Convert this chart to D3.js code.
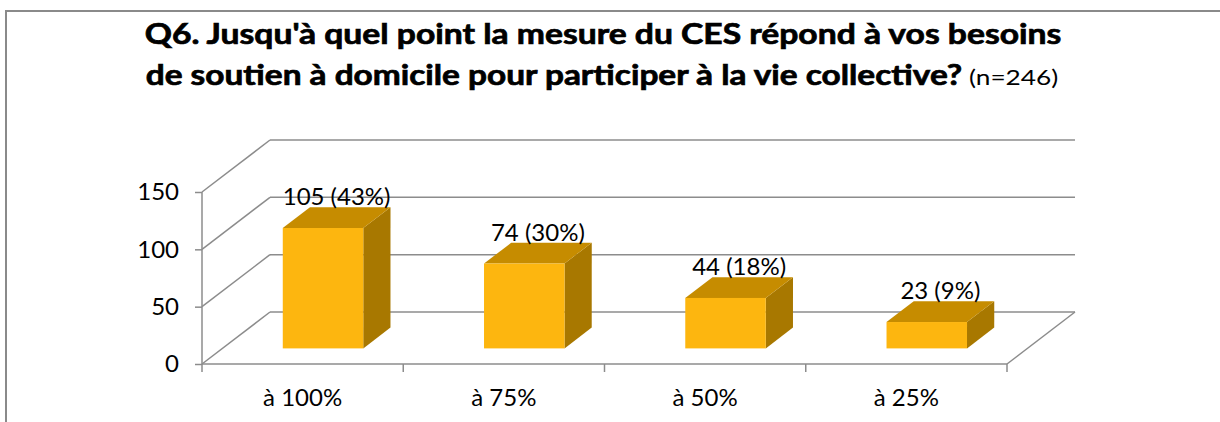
<!DOCTYPE html>
<html>
<head>
<meta charset="utf-8">
<script src="https://cdn.jsdelivr.net/npm/d3@7"></script>
<style>
  body { margin: 0; background: #fff; }
  svg { display: block; font-family: "Gill Sans", "Gill Sans MT", Lato, sans-serif; }
</style>
</head>
<body>
<div id="chart"></div>
<script>
// data
var categories = ["à 100%", "à 75%", "à 50%", "à 25%"];
var counts = [105, 74, 44, 23];
var percents = [43, 30, 18, 9];
var yTicks = [0, 50, 100, 150];

var titleLine1 = "Q6. Jusqu'à quel point la mesure du CES répond à vos besoins";
var titleLine2 = "de soutien à domicile pour participer à la vie collective?";
var titleNote = " (n=246)";

function drawChart() {
    var W = 1220, H = 422;
    var svg = d3.select("#chart").append("svg").attr("width", W).attr("height", H);

    // outer frame (only left and top edges visible)
    svg.append("path")
        .attr("d", "M6,422 L6,11 L1220,11")
        .attr("fill", "none")
        .attr("stroke", "#8a8a8a")
        .attr("stroke-width", 2);

    // 3d geometry
    var depthX = 68, depthY = -52;
    var x0 = 202, x1 = 1007;
    var x = d3.scaleBand().domain(categories).range([x0, x1]).padding(0);
    var y = d3.scaleLinear().domain([0, 150]).range([364, 192]);
    var barFrac = 0.4, dNear = 0.3, dFar = 0.7;
    var gridColor = "#8c8c8c";

    var grid = svg.append("g").attr("stroke", gridColor).attr("stroke-width", 1.5).attr("fill", "none");
    // back wall lines + left wall diagonals
    yTicks.forEach(function (t) {
        grid.append("line")
            .attr("x1", x0 + depthX).attr("y1", y(t) + depthY)
            .attr("x2", x1 + depthX).attr("y2", y(t) + depthY);
        grid.append("line")
            .attr("x1", x0).attr("y1", y(t))
            .attr("x2", x0 + depthX).attr("y2", y(t) + depthY);
    });
    // floor right edge
    grid.append("line")
        .attr("x1", x1).attr("y1", y(0))
        .attr("x2", x1 + depthX).attr("y2", y(0) + depthY);

    // bars
    var bars = svg.append("g").selectAll("g")
        .data(counts)
        .enter().append("g");

    bars.each(function (v, i) {
        var g = d3.select(this);
        var bw = x.bandwidth() * barFrac;
        var cx = x(categories[i]) + x.bandwidth() / 2;
        var fx = cx - bw / 2 + depthX * dNear;
        var fy0 = y(0) + depthY * dNear;
        var fy1 = y(v) + depthY * dNear;
        var ddx = depthX * (dFar - dNear), ddy = depthY * (dFar - dNear);
        // side
        g.append("path")
            .attr("d", "M" + (fx + bw) + "," + fy1 + " L" + (fx + bw + ddx) + "," + (fy1 + ddy) +
                " L" + (fx + bw + ddx) + "," + (fy0 + ddy) + " L" + (fx + bw) + "," + fy0 + "Z")
            .attr("fill", "#a87800");
        // top
        g.append("path")
            .attr("d", "M" + fx + "," + fy1 + " L" + (fx + ddx) + "," + (fy1 + ddy) +
                " L" + (fx + bw + ddx) + "," + (fy1 + ddy) + " L" + (fx + bw) + "," + fy1 + "Z")
            .attr("fill", "#c68c00");
        // front
        g.append("rect")
            .attr("x", fx).attr("y", fy1)
            .attr("width", bw).attr("height", fy0 - fy1)
            .attr("fill", "#fdb60f");
        // value label
        g.append("text")
            .attr("x", cx + depthX * 0.5)
            .attr("y", fy1 + ddy - 2)
            .attr("text-anchor", "middle")
            .attr("font-size", 24)
            .attr("fill", "#000")
            .text(v + " (" + percents[i] + "%)");
    });

    // y axis
    var yAxis = svg.append("g")
        .attr("transform", "translate(" + x0 + ",0)")
        .call(d3.axisLeft(y).tickValues(yTicks).tickSize(7).tickPadding(16));
    yAxis.select(".domain").attr("stroke", gridColor).attr("stroke-width", 1.5)
        .attr("d", "M0," + y(150) + "V" + y(0));
    yAxis.selectAll(".tick line").attr("stroke", gridColor).attr("stroke-width", 1.5);
    yAxis.selectAll(".tick text").attr("font-size", 24).attr("fill", "#000")
        .attr("font-family", "\"Gill Sans\", Lato, sans-serif");

    // x axis
    var xAxis = svg.append("g")
        .attr("transform", "translate(0," + y(0) + ")")
        .call(d3.axisBottom(x).tickSize(0).tickPadding(25));
    xAxis.select(".domain").attr("stroke", gridColor).attr("stroke-width", 1.5)
        .attr("d", "M" + x0 + ",0H" + x1);
    xAxis.selectAll(".tick text").attr("font-size", 24).attr("fill", "#000")
        .attr("font-family", "\"Gill Sans\", Lato, sans-serif");
    // category boundary ticks
    var bounds = categories.map(function (c) { return x(c); }).concat([x1]);
    xAxis.selectAll(".bound").data(bounds).enter().append("line")
        .attr("class", "bound")
        .attr("x1", function (d) { return d; }).attr("x2", function (d) { return d; })
        .attr("y1", 0).attr("y2", 8)
        .attr("stroke", gridColor).attr("stroke-width", 1.5);

    // title: two lines, squeezed horizontally to the reference width
    var fs = 28;
    var t1 = svg.append("text")
        .attr("text-anchor", "middle")
        .attr("font-weight", "bold")
        .attr("font-size", fs)
        .attr("stroke", "#000").attr("stroke-width", 0.7)
        .text(titleLine1);
    var k1 = 917 / t1.node().getComputedTextLength();
    t1.attr("transform", "translate(603,44) scale(" + k1 + ",1)");

    var t2 = svg.append("text")
        .attr("text-anchor", "middle");
    t2.append("tspan").attr("font-weight", "bold").attr("font-size", fs)
        .attr("stroke", "#000").attr("stroke-width", 0.7)
        .text(titleLine2);
    t2.append("tspan").attr("font-size", 22).text(titleNote);
    var k2 = 913 / t2.node().getComputedTextLength();
    t2.attr("transform", "translate(602,85) scale(" + k2 + ",1)");
}

drawChart();
</script>
</body>
</html>
